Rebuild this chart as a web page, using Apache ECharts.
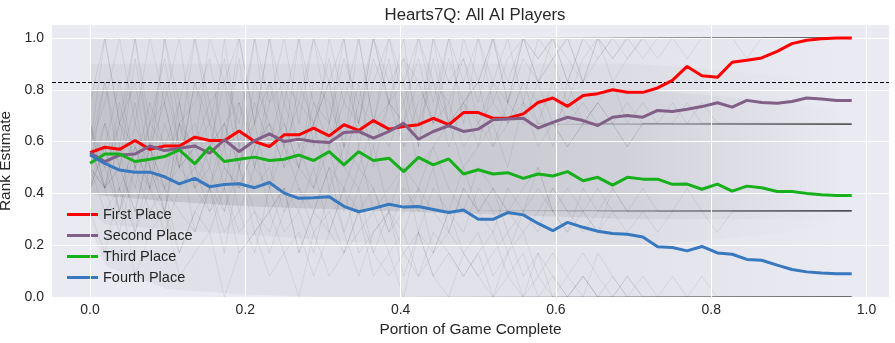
<!DOCTYPE html>
<html>
<head>
<meta charset="utf-8">
<script src="https://cdn.jsdelivr.net/npm/echarts@6/dist/echarts.min.js"></script>
<style>
  html, body { margin: 0; padding: 0; background: #ffffff; }
  #chart { width: 895px; height: 343px; }
</style>
</head>
<body>
<div id="chart"></div>
<script>
// Portion of game complete at each sample (52 samples)
const progress = [0, 0.019, 0.038, 0.058, 0.077, 0.096, 0.115, 0.135, 0.154, 0.173, 0.192, 0.212, 0.231,
  0.25, 0.269, 0.288, 0.308, 0.327, 0.346, 0.365, 0.385, 0.404, 0.423, 0.442, 0.462, 0.481,
  0.5, 0.519, 0.538, 0.558, 0.577, 0.596, 0.615, 0.635, 0.654, 0.673, 0.692, 0.712, 0.731,
  0.75, 0.769, 0.788, 0.808, 0.827, 0.846, 0.865, 0.885, 0.904, 0.923, 0.942, 0.962, 0.981];

// Mean rank estimate, grouped by final placing
const firstPlace = [0.557, 0.578, 0.570, 0.604, 0.570, 0.583, 0.583, 0.617, 0.604, 0.604, 0.641, 0.600, 0.581,
  0.626, 0.626, 0.652, 0.622, 0.665, 0.643, 0.681, 0.648, 0.658, 0.665, 0.690, 0.665, 0.712,
  0.712, 0.690, 0.690, 0.707, 0.751, 0.768, 0.736, 0.778, 0.785, 0.800, 0.790, 0.790, 0.807,
  0.836, 0.890, 0.854, 0.848, 0.906, 0.914, 0.923, 0.948, 0.978, 0.991, 0.997, 1.0, 1.0];
const secondPlace = [0.557, 0.523, 0.548, 0.552, 0.583, 0.565, 0.574, 0.583, 0.555, 0.607, 0.561, 0.604, 0.630,
  0.600, 0.609, 0.600, 0.596, 0.635, 0.639, 0.613, 0.639, 0.671, 0.609, 0.639, 0.661, 0.639,
  0.648, 0.684, 0.687, 0.690, 0.652, 0.674, 0.694, 0.681, 0.662, 0.694, 0.701, 0.694, 0.720,
  0.716, 0.725, 0.735, 0.750, 0.733, 0.759, 0.751, 0.748, 0.755, 0.768, 0.764, 0.759, 0.759];
const thirdPlace = [0.516, 0.552, 0.552, 0.523, 0.532, 0.542, 0.568, 0.514, 0.578, 0.523, 0.532, 0.540, 0.527,
  0.532, 0.548, 0.527, 0.561, 0.510, 0.561, 0.527, 0.536, 0.484, 0.539, 0.510, 0.533, 0.475,
  0.491, 0.475, 0.480, 0.458, 0.475, 0.467, 0.484, 0.449, 0.462, 0.432, 0.462, 0.455, 0.455,
  0.435, 0.436, 0.416, 0.436, 0.409, 0.428, 0.422, 0.407, 0.407, 0.400, 0.395, 0.392, 0.392];
const fourthPlace = [0.548, 0.516, 0.490, 0.482, 0.482, 0.464, 0.437, 0.458, 0.426, 0.434, 0.437, 0.422, 0.442,
  0.401, 0.381, 0.383, 0.387, 0.350, 0.329, 0.342, 0.358, 0.347, 0.349, 0.338, 0.326, 0.336,
  0.300, 0.300, 0.326, 0.317, 0.284, 0.256, 0.288, 0.269, 0.254, 0.245, 0.242, 0.232, 0.194,
  0.191, 0.178, 0.195, 0.170, 0.165, 0.145, 0.142, 0.123, 0.106, 0.097, 0.093, 0.090, 0.090];

const xTicks = [0, 0.2, 0.4, 0.6, 0.8, 1.0];
const yTicks = [0, 0.2, 0.4, 0.6, 0.8, 1.0];
const thresholdLevel = 0.8333;

// Final rank levels that finished games settle onto, and where the settled runs begin
const settledLevels = [1.0, 0.667, 0.333, 0.0];
const settledFrom = [0.56, 0.56, 0.5, 0.42];

// Individual player traces from single games
const gameTraces = [
  [0.5,0.83,0.58,1,0.67,0.92,0.58,1,0.75,0.83,0.67,1,0.58, 0.83,0.75,1,0.67,0.92,0.75,1,0.83,0.92,0.67,1,0.83,0.92,
   0.75,1,0.83,1,0.92,1,0.83,1,1,0.92,1,1,1, 1,1,1,1,1,1,1,1,1,1,1,1,1],
  [0.58,1,0.67,0.83,0.5,1,0.67,0.75,0.92,0.58,1,0.67,0.83, 0.58,1,0.75,0.67,1,0.58,0.83,1,0.75,0.92,0.67,1,0.83,
   1,0.75,0.92,1,0.83,1,0.92,0.83,1,1,0.92,1,1, 1,1,1,1,1,1,1,1,1,1,1,1,1],
  [0.42,0.58,0.33,0.67,0.5,0.42,0.75,0.5,0.58,0.83,0.5,0.67,1, 0.58,0.75,0.67,0.83,0.58,1,0.67,0.75,0.92,0.83,0.67,0.92,0.75,
   0.83,1,0.75,0.92,0.83,0.92,1,0.83,0.92,1,1,0.92,1, 1,1,1,1,1,0.92,1,1,1,1,1,1,1],
  [0.67,0.42,0.75,0.5,0.58,0.33,0.67,0.58,0.42,0.67,0.75,0.5,0.83, 0.67,0.5,0.83,0.75,0.58,0.67,0.92,0.75,0.67,1,0.83,0.75,0.92,
   0.67,0.83,0.75,1,0.83,0.92,0.75,0.92,1,0.83,0.92,1,0.92, 1,0.92,1,1,1,1,1,1,1,1,1,1,1],
  [0.75,1,0.67,1,0.58,1,0.75,1,0.67,0.92,0.58,1,0.75, 1,0.67,1,0.83,1,0.67,1,0.75,1,0.58,1,0.67,1,
   0.83,1,0.75,1,0.92,1,0.83,1,0.92,1,1,1,1, 1,1,1,1,1,1,1,1,1,1,1,1,1],
  [0.58,0.75,1,0.67,1,0.75,1,0.58,1,0.83,1,0.67,1, 0.75,1,0.58,1,0.75,1,0.67,1,0.83,1,0.75,1,0.67,
   1,0.83,1,0.75,1,0.92,1,0.83,1,0.92,1,1,1, 1,1,1,1,1,1,1,1,1,1,1,1,1],
  [0.5,0.42,0.67,0.5,0.75,0.58,0.5,0.83,0.58,0.67,0.5,0.75,0.58, 0.67,0.5,0.75,0.58,0.83,0.67,0.58,0.75,0.67,0.83,0.67,0.75,0.58,
   0.67,0.75,0.67,0.83,0.67,0.67,0.75,0.67,0.67,0.67,0.75,0.67,0.67, 0.67,0.67,0.67,0.67,0.67,0.67,0.67,0.67,0.67,0.67,0.67,0.67,0.67],
  [0.42,0.67,0.5,0.75,0.42,0.83,0.58,0.67,0.5,1,0.58,0.67,0.42, 0.75,0.58,0.67,0.83,0.5,0.75,0.67,0.92,0.58,0.75,0.83,0.67,0.75,
   0.58,0.83,0.67,0.75,0.67,0.83,0.67,0.75,0.67,0.67,0.58,0.67,0.67, 0.67,0.67,0.67,0.67,0.67,0.67,0.67,0.67,0.67,0.67,0.67,0.67,0.67],
  [0.67,0.5,0.58,0.42,0.67,0.75,0.5,0.58,0.67,0.42,0.75,0.58,0.67, 0.5,0.83,0.67,0.58,0.75,0.67,1,0.75,0.58,0.67,0.83,0.58,0.75,
   0.67,0.58,0.75,0.67,0.83,0.67,0.58,0.67,0.75,0.67,0.67,0.67,0.67, 0.67,0.67,0.75,0.67,0.67,0.67,0.67,0.67,0.67,0.67,0.67,0.67,0.67],
  [0.5,0.58,0.83,0.5,0.67,0.58,0.75,0.42,0.58,0.67,0.5,0.83,0.67, 0.58,0.5,0.67,0.42,0.58,0.5,0.67,0.58,0.75,0.5,0.58,0.67,0.5,
   0.58,0.67,0.5,0.75,0.58,0.67,0.58,0.67,0.75,0.67,0.58,0.67,0.67, 0.75,0.67,0.67,0.67,0.67,0.67,0.67,0.67,0.67,0.67,0.67,0.67,0.67],
  [0.58,0.83,0.5,0.92,0.58,0.75,0.5,0.83,0.67,0.58,0.92,0.5,0.75, 0.83,0.58,0.67,0.92,0.58,0.83,0.5,0.75,0.83,0.58,0.92,0.67,0.75,
   0.83,0.58,0.67,0.83,0.75,0.58,0.83,0.67,0.75,0.83,0.67,0.75,0.67, 0.67,0.75,0.67,0.67,0.67,0.67,0.67,0.67,0.67,0.67,0.67,0.67,0.67],
  [0.58,0.42,0.5,0.33,0.58,0.42,0.5,0.42,0.33,0.5,0.42,0.58,0.33, 0.42,0.33,0.5,0.25,0.42,0.33,0.42,0.25,0.33,0.42,0.33,0.25,0.42,
   0.33,0.42,0.33,0.25,0.33,0.42,0.33,0.33,0.25,0.33,0.33,0.33,0.33, 0.33,0.33,0.33,0.33,0.33,0.33,0.33,0.33,0.33,0.33,0.33,0.33,0.33],
  [0.5,0.67,0.42,0.58,0.5,0.33,0.67,0.5,0.42,0.58,0.33,0.5,0.42, 0.58,0.42,0.33,0.5,0.42,0.58,0.33,0.42,0.5,0.25,0.42,0.33,0.5,
   0.33,0.42,0.25,0.33,0.42,0.33,0.25,0.33,0.42,0.33,0.33,0.33,0.33, 0.33,0.33,0.33,0.25,0.33,0.33,0.33,0.33,0.33,0.33,0.33,0.33,0.33],
  [0.58,0.5,0.67,0.58,0.42,0.67,0.5,0.58,0.75,0.5,0.42,0.58,0.67, 0.5,0.58,0.42,0.67,0.5,0.42,0.58,0.33,0.5,0.42,0.58,0.42,0.33,
   0.5,0.42,0.33,0.42,0.5,0.33,0.42,0.33,0.25,0.42,0.33,0.42,0.33, 0.33,0.42,0.33,0.33,0.33,0.33,0.33,0.33,0.33,0.33,0.33,0.33,0.33],
  [0.42,0.5,0.33,0.58,0.42,0.5,0.67,0.42,0.5,0.33,0.58,0.42,0.5, 0.33,0.5,0.42,0.58,0.33,0.5,0.42,0.25,0.42,0.33,0.5,0.25,0.42,
   0.33,0.25,0.42,0.33,0.5,0.33,0.25,0.42,0.33,0.33,0.25,0.33,0.33, 0.33,0.33,0.33,0.33,0.33,0.33,0.33,0.33,0.33,0.33,0.33,0.33,0.33],
  [0.67,0.42,0.58,0.25,0.5,0.33,0.58,0.25,0.42,0.17,0.5,0.33,0.25, 0.42,0.17,0.33,0.5,0.25,0.42,0.17,0.33,0.25,0.42,0.17,0.33,0.25,
   0.42,0.33,0.17,0.33,0.25,0.42,0.33,0.25,0.33,0.42,0.33,0.33,0.25, 0.33,0.33,0.33,0.33,0.33,0.33,0.33,0.33,0.33,0.33,0.33,0.33,0.33],
  [0.5,0.33,0.42,0.25,0.42,0.33,0.17,0.33,0.25,0.42,0.17,0.25,0.33, 0.17,0.25,0.08,0.25,0.17,0.33,0.17,0.08,0.17,0.25,0.08,0.17,0.08,
   0.17,0,0.08,0.17,0,0.08,0,0.08,0,0,0.08,0,0, 0,0,0,0,0,0,0,0,0,0,0,0,0],
  [0.58,0.42,0.25,0.5,0.33,0.42,0.17,0.33,0.42,0.25,0.33,0.17,0.42, 0.25,0.33,0.17,0.42,0.25,0.08,0.25,0.33,0.17,0.08,0.25,0.17,0.08,
   0.17,0.25,0.08,0,0.17,0.08,0,0.08,0,0.08,0,0,0, 0,0,0,0,0,0,0,0,0,0,0,0,0],
  [0.42,0.58,0.33,0.5,0.42,0.25,0.42,0.5,0.33,0.42,0.25,0.33,0.17, 0.33,0.42,0.25,0.33,0.17,0.25,0.33,0.17,0.25,0.08,0.17,0.25,0.17,
   0.08,0.17,0.25,0.08,0.17,0,0.08,0.17,0.08,0,0.08,0,0, 0.08,0,0,0,0,0,0,0,0,0,0,0,0],
  [0.5,0.42,0.5,0.33,0.58,0.42,0.33,0.25,0.42,0.33,0.5,0.25,0.33, 0.42,0.17,0.33,0.25,0.42,0.17,0.25,0.33,0.08,0.25,0.17,0.33,0.17,
   0.25,0.08,0.17,0.25,0.08,0.17,0.08,0,0.17,0.08,0,0.08,0, 0,0,0.08,0,0,0,0,0,0,0,0,0,0],
  [0.33,0.17,0.42,0.08,0.25,0.33,0.08,0.17,0.25,0,0.17,0.25,0.08, 0.17,0,0.25,0.08,0.17,0.33,0.08,0.17,0,0.25,0.08,0,0.17,
   0.08,0,0.17,0,0.08,0,0,0.08,0,0,0,0,0, 0,0,0,0,0,0,0,0,0,0,0,0,0]
];

// Density envelopes of the trace cloud
const hazeX = [0, 0.02, 0.1, 0.2, 0.3, 0.4, 0.5, 0.6, 0.7, 0.8, 0.9, 0.981];
const hazeOuterLow = [0.27, 0.12, 0.03, 0.01, 0, 0, 0, 0, 0, 0, 0, 0];
const hazeOuterHigh = [1.0, 1.0, 1.0, 1.0, 1.0, 1.0, 1.0, 1.0, 1.0, 1.0, 1.0, 1.0];
const hazeMidLow = [0.33, 0.28, 0.26, 0.24, 0.22, 0.2, 0.2, 0.2, 0.2, 0.22, 0.25, 0.3];
const hazeMidHigh = [0.9, 0.9, 0.9, 0.9, 0.9, 0.9, 0.9, 0.9, 0.9, 0.88, 0.85, 0.8];
const hazeCoreLow = [0.40, 0.39, 0.37, 0.35, 0.34, 0.33, 0.32, 0.31, 0.3, 0.3, 0.3, 0.3];
const hazeCoreHigh = [0.80, 0.80, 0.80, 0.80, 0.80, 0.80, 0.80, 0.80, 0.80, 0.78, 0.75, 0.7];

const placeNames = ['First Place', 'Second Place', 'Third Place', 'Fourth Place'];
const placeColors = ['#ff0000', '#825f87', '#15b01a', '#3778bf'];
const placeValues = [firstPlace, secondPlace, thirdPlace, fourthPlace];

const pair = (xs, ys) => xs.map((x, i) => [x, ys[i]]);
const textColor = '#262626';
const fontFamily = '"Liberation Sans", Arial, sans-serif';

const series = [];

// White grid lines under everything
series.push({
  type: 'line', data: [], z: 1, silent: true,
  markLine: {
    silent: true, symbol: 'none', animation: false,
    label: { show: false },
    lineStyle: { color: '#ffffff', width: 1, type: 'solid' },
    data: xTicks.map(v => ({ xAxis: v })).concat(yTicks.map(v => ({ yAxis: v })))
  }
});

// Cloud density bands, drawn as polygons between a low and a high envelope
function band(low, high, stops) {
  series.push({
    type: 'custom', silent: true, z: 2, clip: true,
    data: [[0, 0]],
    renderItem: (params, api) => {
      const pts = [];
      hazeX.forEach((x, i) => pts.push(api.coord([x, high[i]])));
      for (let i = hazeX.length - 1; i >= 0; i--) pts.push(api.coord([hazeX[i], low[i]]));
      return {
        type: 'polygon',
        shape: { points: pts },
        style: { fill: new echarts.graphic.LinearGradient(0, 0, 1, 0, stops) }
      };
    }
  });
}
band(hazeOuterLow, hazeOuterHigh, [
  { offset: 0, color: 'rgba(40,40,55,0.05)' },
  { offset: 0.7, color: 'rgba(40,40,55,0.04)' },
  { offset: 1, color: 'rgba(40,40,55,0.0)' }
]);
band(hazeMidLow, hazeMidHigh, [
  { offset: 0, color: 'rgba(40,40,55,0.045)' },
  { offset: 0.7, color: 'rgba(40,40,55,0.035)' },
  { offset: 1, color: 'rgba(40,40,55,0.0)' }
]);
band(hazeCoreLow, hazeCoreHigh, [
  { offset: 0, color: 'rgba(40,40,55,0.12)' },
  { offset: 0.55, color: 'rgba(40,40,55,0.09)' },
  { offset: 0.85, color: 'rgba(40,40,55,0.03)' },
  { offset: 1, color: 'rgba(40,40,55,0.0)' }
]);

// Faint individual traces
gameTraces.forEach(tr => {
  series.push({
    type: 'line', data: pair(progress, tr), symbol: 'none', silent: true, z: 3,
    lineStyle: { color: '#000000', width: 0.8, opacity: 0.09 }
  });
});

// Runs of finished games resting on their final rank
settledLevels.forEach((lvl, k) => {
  series.push({
    type: 'line', data: [[settledFrom[k], lvl], [progress[progress.length - 1], lvl]],
    symbol: 'none', silent: true, z: 3,
    lineStyle: {
      width: 1,
      color: new echarts.graphic.LinearGradient(0, 0, 1, 0, [
        { offset: 0, color: 'rgba(0,0,0,0.05)' },
        { offset: 0.45, color: 'rgba(0,0,0,0.35)' },
        { offset: 1, color: 'rgba(0,0,0,0.9)' }
      ])
    }
  });
});

// Dashed reference level
series.push({
  type: 'line', data: [], z: 4, silent: true,
  markLine: {
    silent: true, symbol: 'none', animation: false,
    label: { show: false },
    lineStyle: { color: '#000000', width: 1, type: [4, 2] },
    data: [{ yAxis: thresholdLevel }]
  }
});

// Mean rank-estimate lines
placeValues.forEach((vals, k) => {
  series.push({
    name: placeNames[k], type: 'line', data: pair(progress, vals), symbol: 'none', z: 6,
    lineStyle: { color: placeColors[k], width: 3 },
    itemStyle: { color: placeColors[k] }
  });
});

const chart = echarts.init(document.getElementById('chart'), null, { renderer: 'canvas' });
chart.setOption({
  animation: false,
  backgroundColor: '#ffffff',
  title: {
    text: 'Hearts7Q: All AI Players', left: 470, top: 2, textAlign: 'center',
    textStyle: { color: textColor, fontSize: 16.8, fontWeight: 'normal', fontFamily }
  },
  grid: {
    left: 52, right: 6, top: 25, bottom: 46, show: true,
    containLabel: false, outerBoundsMode: 'none',
    backgroundColor: '#eaeaf2', borderWidth: 0
  },
  legend: {
    data: placeNames, orient: 'vertical', left: 62, top: 201,
    icon: 'rect', itemWidth: 31, itemHeight: 3, itemGap: 4,
    textStyle: { color: textColor, fontSize: 14.5, fontFamily, lineHeight: 17 }
  },
  xAxis: {
    type: 'value', min: -0.049, max: 1.029,
    name: 'Portion of Game Complete', nameLocation: 'middle', nameGap: 21,
    nameTextStyle: { color: textColor, fontSize: 15.4, fontFamily },
    axisLine: { show: false }, axisTick: { show: false }, splitLine: { show: false },
    axisLabel: {
      customValues: xTicks, margin: 6, color: textColor, fontSize: 14, fontFamily,
      formatter: v => v.toFixed(1)
    }
  },
  yAxis: {
    type: 'value', min: 0, max: 1.05,
    name: 'Rank Estimate', nameLocation: 'middle', nameGap: 33,
    nameTextStyle: { color: textColor, fontSize: 15.4, fontFamily },
    axisLine: { show: false }, axisTick: { show: false }, splitLine: { show: false },
    axisLabel: {
      customValues: yTicks, margin: 8, color: textColor, fontSize: 14, fontFamily,
      formatter: v => v.toFixed(1)
    }
  },
  series
});
</script>
</body>
</html>
